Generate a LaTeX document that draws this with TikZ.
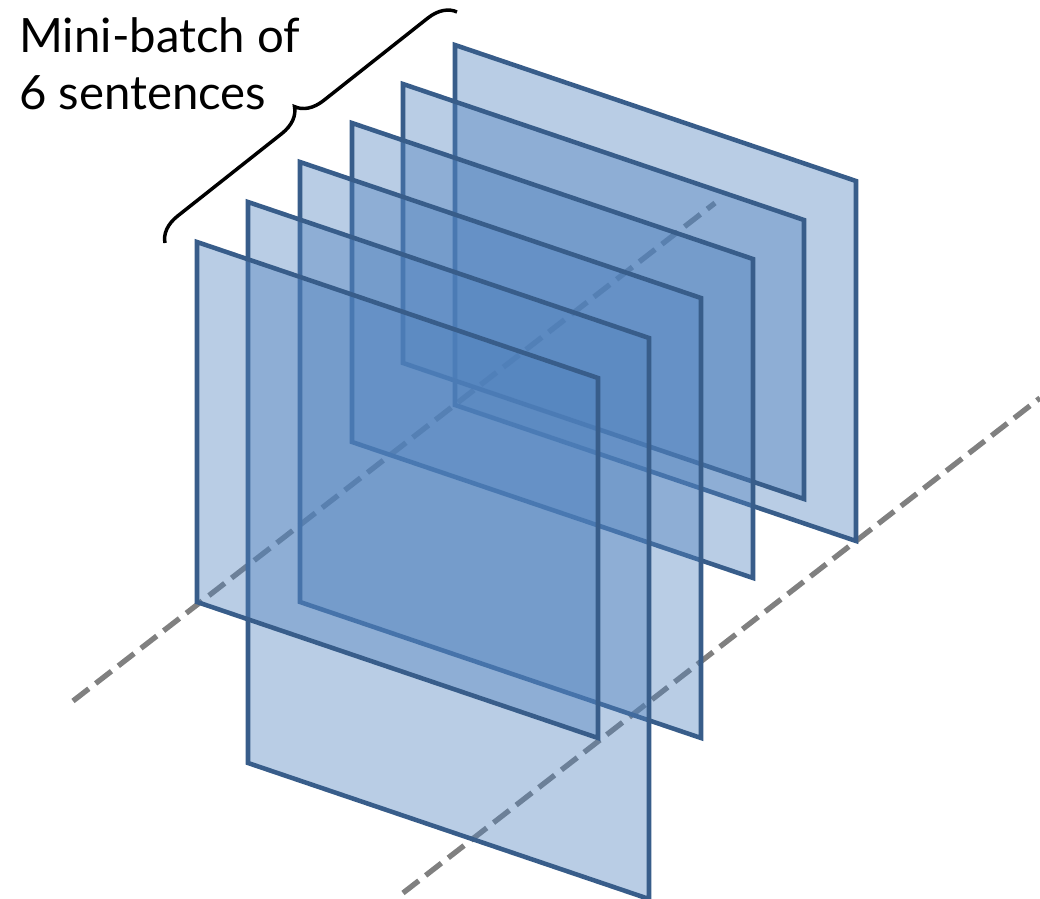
\documentclass[tikz,border=0pt]{standalone}
\usepackage{fontspec}
\setmainfont{Lato}
\usetikzlibrary{decorations.pathreplacing}

\definecolor{planefill}{RGB}{79,129,189}
\definecolor{planeedge}{RGB}{56,93,138}
\definecolor{axisgray}{RGB}{128,128,128}

\begin{document}
\begin{tikzpicture}[x=0.75pt,y=0.75pt,yscale=-1,
  plane/.style={draw=planeedge,fill=planefill,fill opacity=0.4,line width=3.4pt},
  axis/.style={draw=axisgray,line width=4pt,dash pattern=on 15pt off 6.5pt},
  bracket/.style={line width=2.6pt,decorate,decoration={brace,amplitude=20pt}}]
\useasboundingbox (0,0) rectangle (1040,899);

%Straight Lines: the two axes running through the stack
\coordinate (a1) at (73,701);
\coordinate (a2) at (715,203);
\coordinate (b1) at (403,893);
\coordinate (b2) at (1040,398);
\draw [axis] (a1) -- (a2);
\draw [axis] (b1) -- (b2);

%Shapes: one plane per sentence, drawn back to front (x / top / bottom)
\foreach \x/\t/\b in {455/45/405,403/84/363,352/123/442,300/162/602,248/202/763,197/242/602}{
  \draw [plane] (\x,\t) -- (\x+401,\t+136) -- (\x+401,\b+136) -- (\x,\b) -- cycle;
}

%Shape: Brace
\coordinate (br1) at (165,243);
\coordinate (br2) at (457,12);
\draw [bracket] (br1) -- (br2);

% Text Node
\node (lbl) [anchor=north west,inner sep=0pt,align=left,font=\fontsize{35.5}{43}\selectfont] at (19,17) {Mini-batch of\\6 sentences};

\end{tikzpicture}
\end{document}
